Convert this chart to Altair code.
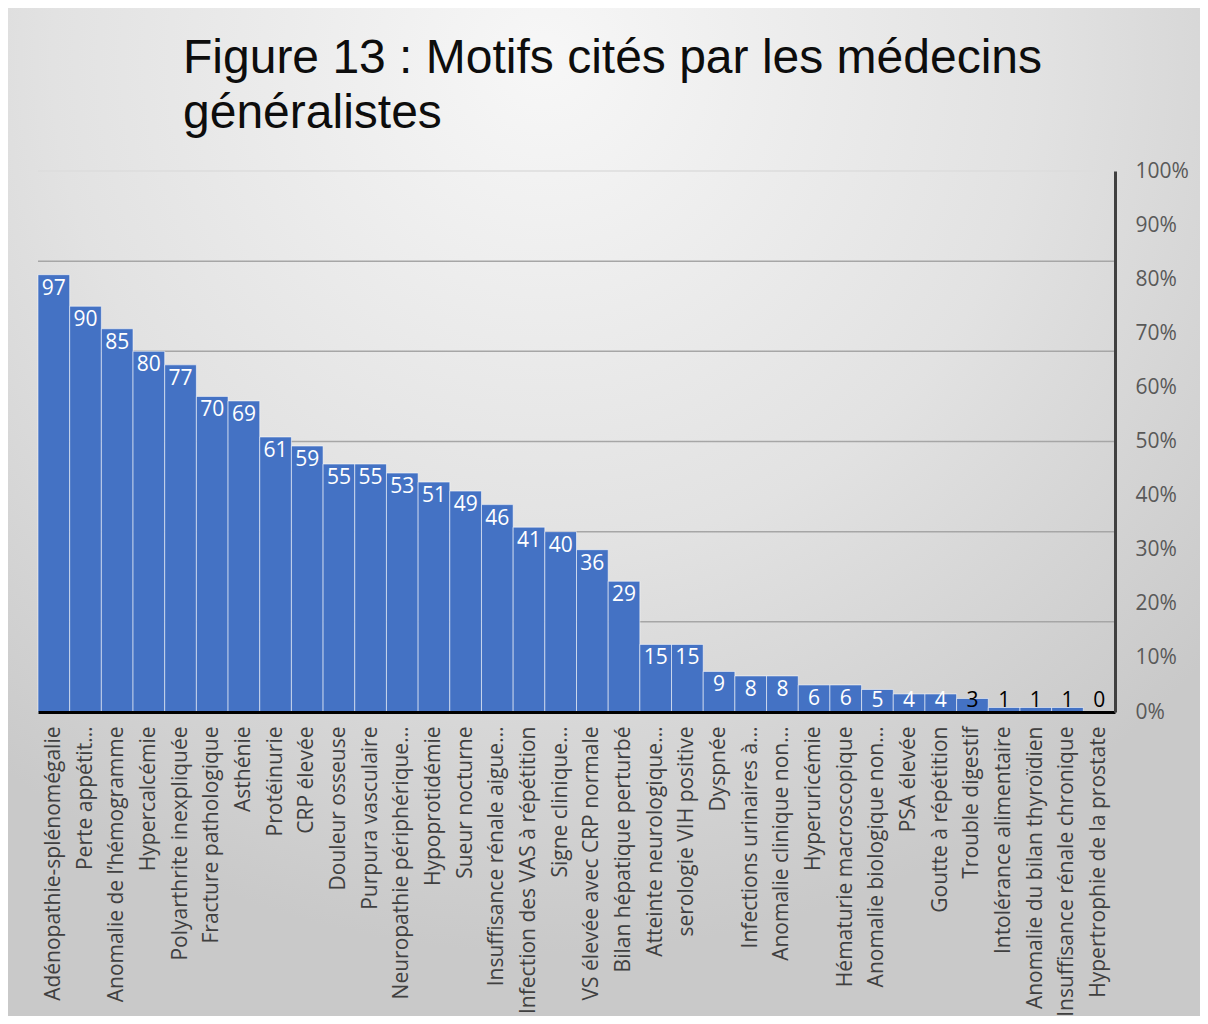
import altair as alt
import pandas as pd

motifs = [
    "Adénopathie-splénomégalie", "Perte appétit…", "Anomalie de l’hémogramme",
    "Hypercalcémie", "Polyarthrite inexpliquée", "Fracture pathologique",
    "Asthénie", "Protéinurie", "CRP élevée", "Douleur osseuse",
    "Purpura vasculaire", "Neuropathie périphérique…", "Hypoprotidémie",
    "Sueur nocturne", "Insuffisance rénale aigue…", "Infection des VAS à répétition",
    "Signe clinique…", "VS élevée avec CRP normale", "Bilan hépatique perturbé",
    "Atteinte neurologique…", "serologie VIH positive", "Dyspnée",
    "Infections urinaires à…", "Anomalie clinique non…", "Hyperuricémie",
    "Hématurie macroscopique", "Anomalie biologique non…", "PSA élevée",
    "Goutte à répétition", "Trouble digestif", "Intolérance alimentaire",
    "Anomalie du bilan thyroïdien", "Insuffisance rénale chronique",
    "Hypertrophie de la prostate",
]
counts = [97, 90, 85, 80, 77, 70, 69, 61, 59, 55, 55, 53, 51, 49, 46, 41, 40,
          36, 29, 15, 15, 9, 8, 8, 6, 6, 5, 4, 4, 3, 1, 1, 1, 0]
total = 120
grid_values = [20, 40, 60, 80, 100, 120]
pct_ticks = [0, 0.1, 0.2, 0.3, 0.4, 0.5, 0.6, 0.7, 0.8, 0.9, 1.0]

df = pd.DataFrame({"motif": motifs, "count": counts})
grid_df = pd.DataFrame({"v": grid_values})

W, H = 1077, 541
PAD = {"left": 30, "top": 163, "right": 85, "bottom": 304}
count_scale = alt.Scale(domain=[0, total], nice=False)

bg = alt.Chart(alt.Data(values=[{"a": 1}])).mark_rect(
    fill=alt.Gradient(
        gradient="radial", x1=0.45, y1=0.12, x2=0.45, y2=0.12, r1=0, r2=0.75,
        stops=[alt.GradientStop(color="#f7f7f7", offset=0),
               alt.GradientStop(color="#e2e2e2", offset=0.55),
               alt.GradientStop(color="#c9c9c9", offset=1)],
    )
).encode(
    x=alt.value(-PAD["left"]), x2=alt.value(W + PAD["right"]),
    y=alt.value(-PAD["top"]), y2=alt.value(H + PAD["bottom"]),
)

grid = alt.Chart(grid_df).mark_rule(strokeWidth=1.5).encode(
    y=alt.Y("v:Q", scale=count_scale, axis=None),
    color=alt.condition("datum.v === 120", alt.value("#dcdcdc"), alt.value("#a6a6a6")),
)

bars = alt.Chart(df).mark_bar(
    color="#4472C4", stroke="#ffffff", strokeWidth=1, strokeOpacity=0.55
).encode(
    x=alt.X(
        "motif:N", sort=motifs, title=None,
        scale=alt.Scale(paddingInner=0, paddingOuter=0),
        axis=alt.Axis(
            labelAngle=270, labelFont="Open Sans", labelFontSize=21,
            labelColor="#404040", labelPadding=14, labelLimit=400,
            ticks=False, domainColor="#000000", domainWidth=3, zindex=1,
        ),
    ),
    y=alt.Y("count:Q", title=None, scale=count_scale, axis=None),
)

labels = alt.Chart(df).transform_calculate(
    ly="max(datum.count, 5.5)"
).mark_text(
    font="Open Sans", fontSize=21, baseline="top", align="center", dy=3
).encode(
    x=alt.X("motif:N", sort=motifs),
    y=alt.Y("ly:Q", scale=count_scale, axis=None),
    text="count:Q",
    color=alt.condition("datum.count >= 4", alt.value("#ffffff"), alt.value("#000000")),
)

main = alt.layer(grid, bars, labels)

pct = alt.Chart(df).transform_calculate(
    p="datum.count / 120"
).mark_rule(opacity=0).encode(
    y=alt.Y("p:Q", title=None, scale=alt.Scale(domain=[0, 1], nice=False),
            axis=alt.Axis(orient="right", format=".0%", values=pct_ticks,
                          grid=False, ticks=False, domainColor="#404040",
                          domainWidth=3, labelPadding=20, labelFont="Open Sans",
                          labelFontSize=21, labelColor="#595959", zindex=1)),
)

chart = alt.layer(bg, main, pct).resolve_scale(y="independent").properties(
    width=W, height=H,
    autosize=alt.AutoSizeParams(type="none"),
    padding=PAD,
    background="#ffffff",
    title=alt.TitleParams(
        text=["Figure 13 : Motifs cités par les médecins", "généralistes"],
        font="Liberation Sans", fontSize=48, fontWeight="normal",
        color="#0d0d0d", anchor="start", frame="group", dx=145,
        offset=-130, lineHeight=55, zindex=1,
    ),
).configure_view(stroke=None)

chart.save("out.html", embed_options={"renderer": "svg", "actions": False})
